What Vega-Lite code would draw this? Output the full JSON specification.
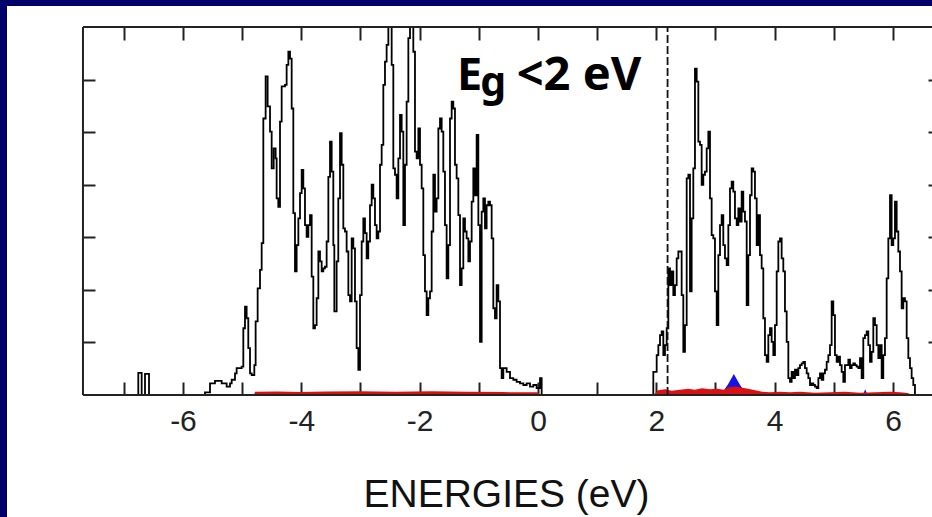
{
  "$schema": "https://vega.github.io/schema/vega-lite/v6.json",
  "width": 925,
  "height": 511,
  "autosize": {"type": "none"},
  "padding": {"left": 7, "top": 6, "right": 0, "bottom": 0},
  "background": "#00006a",
  "view": {"fill": "#ffffff", "stroke": null},
  "datasets": {
    "one": [{}],
    "total": [
      {"E": -7.69, "v": 0}, {"E": -6.755, "v": 0.42}, {"E": -6.698, "v": 0}, {"E": -6.642, "v": 0.40}, {"E": -6.574, "v": 0},
      {"E": -5.628, "v": 0.05}, {"E": -5.543, "v": 0.22}, {"E": -5.459, "v": 0.27}, {"E": -5.346, "v": 0.22}, {"E": -5.262, "v": 0.16},
      {"E": -5.205, "v": 0.22}, {"E": -5.177, "v": 0.29}, {"E": -5.121, "v": 0.41}, {"E": -5.093, "v": 0.51}, {"E": -5.008, "v": 0.54},
      {"E": -4.980, "v": 1.27}, {"E": -4.952, "v": 1.68}, {"E": -4.924, "v": 1.46}, {"E": -4.896, "v": 0.89}, {"E": -4.867, "v": 0.41},
      {"E": -4.839, "v": 0.38}, {"E": -4.794, "v": 0.57}, {"E": -4.772, "v": 1.40}, {"E": -4.738, "v": 2.03}, {"E": -4.698, "v": 2.38},
      {"E": -4.670, "v": 2.89}, {"E": -4.642, "v": 5.26}, {"E": -4.603, "v": 6.06}, {"E": -4.569, "v": 5.49}, {"E": -4.529, "v": 5.01},
      {"E": -4.501, "v": 4.31}, {"E": -4.467, "v": 4.69}, {"E": -4.434, "v": 4.50}, {"E": -4.417, "v": 3.74}, {"E": -4.389, "v": 3.58},
      {"E": -4.360, "v": 5.20}, {"E": -4.332, "v": 5.87}, {"E": -4.276, "v": 5.90}, {"E": -4.248, "v": 6.28}, {"E": -4.219, "v": 6.53},
      {"E": -4.191, "v": 6.40}, {"E": -4.163, "v": 5.45}, {"E": -4.135, "v": 3.46}, {"E": -4.107, "v": 2.35}, {"E": -4.079, "v": 2.85},
      {"E": -4.050, "v": 3.36}, {"E": -4.022, "v": 3.84}, {"E": -3.994, "v": 4.28}, {"E": -3.966, "v": 3.93}, {"E": -3.938, "v": 3.23},
      {"E": -3.910, "v": 3.01}, {"E": -3.881, "v": 3.23}, {"E": -3.853, "v": 3.42}, {"E": -3.825, "v": 2.25}, {"E": -3.797, "v": 1.27},
      {"E": -3.769, "v": 1.33}, {"E": -3.741, "v": 1.84}, {"E": -3.712, "v": 2.73}, {"E": -3.684, "v": 2.54}, {"E": -3.656, "v": 2.35},
      {"E": -3.628, "v": 2.41}, {"E": -3.600, "v": 2.44}, {"E": -3.572, "v": 2.92}, {"E": -3.543, "v": 4.15}, {"E": -3.515, "v": 4.82},
      {"E": -3.487, "v": 4.25}, {"E": -3.459, "v": 2.85}, {"E": -3.442, "v": 1.59}, {"E": -3.403, "v": 2.54}, {"E": -3.375, "v": 3.74},
      {"E": -3.346, "v": 4.98}, {"E": -3.318, "v": 4.38}, {"E": -3.290, "v": 3.17}, {"E": -3.262, "v": 3.11}, {"E": -3.234, "v": 2.73},
      {"E": -3.205, "v": 1.90}, {"E": -3.177, "v": 1.78}, {"E": -3.149, "v": 2.98}, {"E": -3.121, "v": 2.79}, {"E": -3.093, "v": 1.78},
      {"E": -3.065, "v": 0.89}, {"E": -3.036, "v": 0.48}, {"E": -3.008, "v": 1.90}, {"E": -2.980, "v": 2.92}, {"E": -2.952, "v": 3.36},
      {"E": -2.924, "v": 3.08}, {"E": -2.896, "v": 2.60}, {"E": -2.868, "v": 2.92}, {"E": -2.839, "v": 3.61}, {"E": -2.811, "v": 4.00},
      {"E": -2.783, "v": 3.74}, {"E": -2.755, "v": 3.23}, {"E": -2.727, "v": 2.98}, {"E": -2.698, "v": 3.11}, {"E": -2.670, "v": 4.38},
      {"E": -2.642, "v": 4.76}, {"E": -2.614, "v": 5.90}, {"E": -2.586, "v": 6.34}, {"E": -2.558, "v": 6.66}, {"E": -2.529, "v": 7.0},
      {"E": -2.501, "v": 7.0}, {"E": -2.473, "v": 6.28}, {"E": -2.445, "v": 4.31}, {"E": -2.417, "v": 4.19}, {"E": -2.389, "v": 3.74},
      {"E": -2.360, "v": 4.50}, {"E": -2.332, "v": 5.33}, {"E": -2.304, "v": 5.01}, {"E": -2.276, "v": 3.23}, {"E": -2.248, "v": 4.38},
      {"E": -2.220, "v": 5.58}, {"E": -2.191, "v": 6.79}, {"E": -2.163, "v": 7.0}, {"E": -2.135, "v": 7.0}, {"E": -2.107, "v": 6.53},
      {"E": -2.079, "v": 4.63}, {"E": -2.051, "v": 4.50}, {"E": -2.022, "v": 5.07}, {"E": -1.994, "v": 4.38}, {"E": -1.966, "v": 3.93},
      {"E": -1.938, "v": 2.66}, {"E": -1.910, "v": 1.97}, {"E": -1.882, "v": 1.52}, {"E": -1.853, "v": 1.84}, {"E": -1.825, "v": 1.97},
      {"E": -1.797, "v": 3.11}, {"E": -1.769, "v": 4.19}, {"E": -1.741, "v": 3.49}, {"E": -1.713, "v": 3.74}, {"E": -1.684, "v": 5.07},
      {"E": -1.656, "v": 5.26}, {"E": -1.628, "v": 5.01}, {"E": -1.600, "v": 4.25}, {"E": -1.572, "v": 3.23}, {"E": -1.544, "v": 2.22},
      {"E": -1.515, "v": 2.85}, {"E": -1.487, "v": 5.26}, {"E": -1.459, "v": 5.58}, {"E": -1.431, "v": 5.45}, {"E": -1.403, "v": 4.38},
      {"E": -1.375, "v": 4.12}, {"E": -1.346, "v": 3.42}, {"E": -1.318, "v": 2.09}, {"E": -1.290, "v": 2.41}, {"E": -1.262, "v": 3.36},
      {"E": -1.234, "v": 3.11}, {"E": -1.206, "v": 2.98}, {"E": -1.177, "v": 2.54}, {"E": -1.149, "v": 2.92}, {"E": -1.121, "v": 3.68},
      {"E": -1.093, "v": 4.31}, {"E": -1.065, "v": 3.80}, {"E": -1.037, "v": 4.95}, {"E": -1.008, "v": 3.23}, {"E": -0.980, "v": 1.01},
      {"E": -0.952, "v": 3.49}, {"E": -0.924, "v": 3.74}, {"E": -0.896, "v": 3.17}, {"E": -0.868, "v": 3.61}, {"E": -0.839, "v": 3.68},
      {"E": -0.811, "v": 3.61}, {"E": -0.783, "v": 2.98}, {"E": -0.755, "v": 1.65}, {"E": -0.727, "v": 1.46}, {"E": -0.699, "v": 2.09},
      {"E": -0.670, "v": 1.78}, {"E": -0.642, "v": 0.51}, {"E": -0.614, "v": 0.32}, {"E": -0.586, "v": 0.51}, {"E": -0.530, "v": 0.44},
      {"E": -0.473, "v": 0.32}, {"E": -0.417, "v": 0.29}, {"E": -0.361, "v": 0.25}, {"E": -0.304, "v": 0.22}, {"E": -0.248, "v": 0.19},
      {"E": -0.192, "v": 0.22}, {"E": -0.135, "v": 0.16}, {"E": -0.079, "v": 0.19}, {"E": -0.023, "v": 0.13}, {"E": 0.034, "v": 0.32},
      {"E": 0.062, "v": 0}, {"E": 1.893, "v": 0},
      {"E": 1.949, "v": 0.44}, {"E": 2.006, "v": 0.76}, {"E": 2.034, "v": 0.95}, {"E": 2.062, "v": 1.14}, {"E": 2.090, "v": 1.21},
      {"E": 2.118, "v": 0.76}, {"E": 2.146, "v": 0.95}, {"E": 2.175, "v": 1.27}, {"E": 2.203, "v": 2.41}, {"E": 2.231, "v": 2.09},
      {"E": 2.259, "v": 2.35}, {"E": 2.287, "v": 1.90}, {"E": 2.315, "v": 2.09}, {"E": 2.344, "v": 2.60}, {"E": 2.372, "v": 2.73},
      {"E": 2.428, "v": 1.90}, {"E": 2.456, "v": 0.82}, {"E": 2.484, "v": 1.33}, {"E": 2.513, "v": 4.12}, {"E": 2.541, "v": 4.19},
      {"E": 2.569, "v": 1.97}, {"E": 2.597, "v": 3.36}, {"E": 2.625, "v": 4.31}, {"E": 2.653, "v": 6.21}, {"E": 2.682, "v": 5.96},
      {"E": 2.710, "v": 4.82}, {"E": 2.738, "v": 4.76}, {"E": 2.766, "v": 4.00}, {"E": 2.794, "v": 4.19}, {"E": 2.822, "v": 4.25},
      {"E": 2.851, "v": 4.69}, {"E": 2.879, "v": 5.01}, {"E": 2.907, "v": 3.74}, {"E": 2.935, "v": 3.04}, {"E": 2.963, "v": 2.98},
      {"E": 2.991, "v": 1.97}, {"E": 3.020, "v": 1.33}, {"E": 3.048, "v": 2.66}, {"E": 3.076, "v": 3.23}, {"E": 3.104, "v": 3.42},
      {"E": 3.132, "v": 2.85}, {"E": 3.160, "v": 2.60}, {"E": 3.189, "v": 2.47}, {"E": 3.217, "v": 3.23}, {"E": 3.245, "v": 3.93},
      {"E": 3.273, "v": 4.06}, {"E": 3.301, "v": 3.87}, {"E": 3.329, "v": 3.36}, {"E": 3.358, "v": 3.23}, {"E": 3.386, "v": 3.55},
      {"E": 3.414, "v": 3.30}, {"E": 3.442, "v": 3.87}, {"E": 3.470, "v": 3.49}, {"E": 3.498, "v": 3.30}, {"E": 3.527, "v": 1.71},
      {"E": 3.555, "v": 2.66}, {"E": 3.583, "v": 3.80}, {"E": 3.611, "v": 4.31}, {"E": 3.639, "v": 4.25}, {"E": 3.667, "v": 3.74},
      {"E": 3.696, "v": 2.85}, {"E": 3.724, "v": 3.42}, {"E": 3.752, "v": 2.66}, {"E": 3.780, "v": 2.41}, {"E": 3.808, "v": 1.46},
      {"E": 3.836, "v": 0.76}, {"E": 3.865, "v": 0.63}, {"E": 3.893, "v": 1.14}, {"E": 3.921, "v": 1.27}, {"E": 3.949, "v": 1.01},
      {"E": 3.977, "v": 0.76}, {"E": 4.005, "v": 1.33}, {"E": 4.034, "v": 2.35}, {"E": 4.062, "v": 2.92}, {"E": 4.090, "v": 2.98},
      {"E": 4.118, "v": 2.60}, {"E": 4.146, "v": 2.35}, {"E": 4.174, "v": 1.59}, {"E": 4.203, "v": 1.01}, {"E": 4.231, "v": 0.32},
      {"E": 4.259, "v": 0.25}, {"E": 4.287, "v": 0.44}, {"E": 4.315, "v": 0.32}, {"E": 4.343, "v": 0.48}, {"E": 4.372, "v": 0.38},
      {"E": 4.400, "v": 0.51}, {"E": 4.428, "v": 0.57}, {"E": 4.456, "v": 0.60}, {"E": 4.484, "v": 0.63}, {"E": 4.512, "v": 0.51},
      {"E": 4.541, "v": 0.41}, {"E": 4.569, "v": 0.32}, {"E": 4.597, "v": 0.19}, {"E": 4.625, "v": 0.22}, {"E": 4.653, "v": 0.19},
      {"E": 4.681, "v": 0.16}, {"E": 4.710, "v": 0.13}, {"E": 4.738, "v": 0.32}, {"E": 4.766, "v": 0.41}, {"E": 4.794, "v": 0.29},
      {"E": 4.822, "v": 0.41}, {"E": 4.850, "v": 0.48}, {"E": 4.879, "v": 0.63}, {"E": 4.907, "v": 0.76}, {"E": 4.935, "v": 0.95},
      {"E": 4.963, "v": 1.78}, {"E": 4.991, "v": 1.52}, {"E": 5.019, "v": 0.76}, {"E": 5.048, "v": 0.63}, {"E": 5.076, "v": 0.73},
      {"E": 5.104, "v": 0.57}, {"E": 5.132, "v": 0.44}, {"E": 5.160, "v": 0.25}, {"E": 5.188, "v": 0.57}, {"E": 5.217, "v": 0.57},
      {"E": 5.245, "v": 0.67}, {"E": 5.273, "v": 0.51}, {"E": 5.301, "v": 0.57}, {"E": 5.329, "v": 0.60}, {"E": 5.357, "v": 0.57},
      {"E": 5.386, "v": 0.54}, {"E": 5.414, "v": 0.51}, {"E": 5.442, "v": 0.70}, {"E": 5.470, "v": 0.32}, {"E": 5.498, "v": 1.08},
      {"E": 5.526, "v": 1.14}, {"E": 5.555, "v": 1.21}, {"E": 5.583, "v": 0.95}, {"E": 5.611, "v": 0.63}, {"E": 5.639, "v": 0.82},
      {"E": 5.667, "v": 1.46}, {"E": 5.695, "v": 1.33}, {"E": 5.724, "v": 0.95}, {"E": 5.752, "v": 0.70}, {"E": 5.780, "v": 0.95},
      {"E": 5.808, "v": 0.32}, {"E": 5.836, "v": 0.76}, {"E": 5.864, "v": 1.08}, {"E": 5.893, "v": 2.22}, {"E": 5.921, "v": 2.98},
      {"E": 5.949, "v": 3.80}, {"E": 5.977, "v": 2.85}, {"E": 6.005, "v": 2.98}, {"E": 6.033, "v": 3.68}, {"E": 6.062, "v": 3.11},
      {"E": 6.090, "v": 2.73}, {"E": 6.118, "v": 2.35}, {"E": 6.146, "v": 1.65}, {"E": 6.174, "v": 1.84}, {"E": 6.202, "v": 1.78},
      {"E": 6.231, "v": 1.08}, {"E": 6.259, "v": 0.70}, {"E": 6.287, "v": 0.51}, {"E": 6.315, "v": 0.32}, {"E": 6.343, "v": 0.19},
      {"E": 6.371, "v": 0}, {"E": 6.66, "v": 0}
    ],
    "red": [
      {"E": -4.80, "v": 0}, {"E": -4.78, "v": 0.06}, {"E": -4.4, "v": 0.065}, {"E": -4.0, "v": 0.055}, {"E": -3.6, "v": 0.065}, {"E": -3.0, "v": 0.07},
      {"E": -2.4, "v": 0.06}, {"E": -1.8, "v": 0.07}, {"E": -1.2, "v": 0.06}, {"E": -0.6, "v": 0.055}, {"E": 0.0, "v": 0.05}, {"E": 0.03, "v": 0},
      {"E": 1.95, "v": 0}, {"E": 2.03, "v": 0.09}, {"E": 2.15, "v": 0.11}, {"E": 2.26, "v": 0.08}, {"E": 2.40, "v": 0.10},
      {"E": 2.54, "v": 0.12}, {"E": 2.65, "v": 0.10}, {"E": 2.77, "v": 0.13}, {"E": 2.91, "v": 0.11}, {"E": 3.03, "v": 0.12},
      {"E": 3.14, "v": 0.10}, {"E": 3.24, "v": 0.15}, {"E": 3.35, "v": 0.16}, {"E": 3.45, "v": 0.14}, {"E": 3.55, "v": 0.12},
      {"E": 3.67, "v": 0.09}, {"E": 3.79, "v": 0.06}, {"E": 3.92, "v": 0.05}, {"E": 4.09, "v": 0.06}, {"E": 4.26, "v": 0.05},
      {"E": 4.43, "v": 0.06}, {"E": 4.68, "v": 0.045}, {"E": 4.93, "v": 0.05}, {"E": 5.19, "v": 0.06}, {"E": 5.44, "v": 0.045},
      {"E": 5.70, "v": 0.05}, {"E": 5.95, "v": 0.06}, {"E": 6.12, "v": 0.05}, {"E": 6.25, "v": 0.04}, {"E": 6.32, "v": 0}
    ],
    "blue": [
      {"E": 3.10, "v": 0}, {"E": 3.16, "v": 0.12}, {"E": 3.21, "v": 0.2}, {"E": 3.26, "v": 0.3}, {"E": 3.31, "v": 0.40},
      {"E": 3.36, "v": 0.30}, {"E": 3.41, "v": 0.2}, {"E": 3.46, "v": 0.12}, {"E": 3.52, "v": 0},
      {"E": 5.49, "v": 0}, {"E": 5.53, "v": 0.11}, {"E": 5.57, "v": 0}
    ]
  },
  "layer": [
    {
      "data": {"name": "blue"},
      "mark": {"type": "area", "color": "#1414e6", "interpolate": "linear"},
      "encoding": {
        "x": {"field": "E", "type": "quantitative", "scale": {"domain": [-8.974, 6.659], "nice": false, "zero": false}, "axis": null},
        "y": {"field": "v", "type": "quantitative", "scale": {"domain": [-2.321, 7.4], "nice": false, "zero": false}, "axis": null},
        "y2": {"datum": 0}
      }
    },
    {
      "data": {"name": "red"},
      "mark": {"type": "area", "color": "#dc1010", "interpolate": "linear"},
      "encoding": {
        "x": {"field": "E", "type": "quantitative", "scale": {"domain": [-8.974, 6.659], "nice": false, "zero": false},
          "axis": {"orient": "top", "offset": -21, "domain": false, "grid": false, "labels": false, "title": null,
            "values": [-7, -6, -5, -4, -3, -2, -1, 0, 1, 2, 3, 4, 5, 6], "tickSize": -13, "tickWidth": 2, "tickColor": "#222222"}},
        "y": {"field": "v", "type": "quantitative", "scale": {"domain": [-2.321, 7.4], "nice": false, "zero": false},
          "axis": {"orient": "right", "offset": 0, "domain": false, "grid": false, "labels": false, "title": null,
            "values": [1, 2, 3, 4, 5, 6], "tickSize": -4, "tickWidth": 2, "tickColor": "#222222"}},
        "y2": {"datum": 0}
      }
    },
    {
      "data": {"name": "total"},
      "mark": {"type": "line", "color": "#000000", "strokeWidth": 1.8, "interpolate": "step-after"},
      "encoding": {
        "x": {"field": "E", "type": "quantitative", "scale": {"domain": [-8.974, 6.659], "nice": false, "zero": false},
          "axis": {"orient": "bottom", "offset": -122, "domain": false, "grid": false, "title": null,
            "values": [-7, -6, -5, -4, -3, -2, -1, 0, 1, 2, 3, 4, 5, 6], "tickSize": -13, "tickWidth": 2, "tickColor": "#222222",
            "labelExpr": "datum.value % 2 == 0 ? (datum.value < 0 ? '-' + abs(datum.value) : '' + datum.value) : ''",
            "labelFont": "Liberation Sans", "labelFontSize": 30, "labelColor": "#222222", "labelPadding": 24,
            "labelOverlap": false, "labelFlush": false}},
        "y": {"field": "v", "type": "quantitative", "scale": {"domain": [-2.321, 7.4], "nice": false, "zero": false},
          "axis": {"orient": "left", "offset": -75, "domain": false, "grid": false, "labels": false, "title": null,
            "values": [1, 2, 3, 4, 5, 6], "tickSize": -13, "tickWidth": 2, "tickColor": "#222222"}}
      }
    },
    {
      "data": {"name": "one"},
      "mark": {"type": "rule", "color": "#222222", "strokeWidth": 2},
      "encoding": {
        "x": {"datum": -7.69, "type": "quantitative", "scale": {"domain": [-8.974, 6.659], "nice": false, "zero": false}, "axis": null},
        "y": {"datum": 0, "type": "quantitative", "scale": {"domain": [-2.321, 7.4], "nice": false, "zero": false}, "axis": null},
        "y2": {"datum": 7}
      }
    },
    {
      "data": {"name": "one"},
      "mark": {"type": "rule", "color": "#222222", "strokeWidth": 2},
      "encoding": {
        "x": {"datum": -7.69, "type": "quantitative", "scale": {"domain": [-8.974, 6.659], "nice": false, "zero": false}, "axis": null},
        "x2": {"datum": 6.659},
        "y": {"datum": 0, "type": "quantitative", "scale": {"domain": [-2.321, 7.4], "nice": false, "zero": false}, "axis": null}
      }
    },
    {
      "data": {"name": "one"},
      "mark": {"type": "rule", "color": "#222222", "strokeWidth": 2},
      "encoding": {
        "x": {"datum": -7.69, "type": "quantitative", "scale": {"domain": [-8.974, 6.659], "nice": false, "zero": false}, "axis": null},
        "x2": {"datum": 6.659},
        "y": {"datum": 7, "type": "quantitative", "scale": {"domain": [-2.321, 7.4], "nice": false, "zero": false}, "axis": null}
      }
    },
    {
      "data": {"name": "one"},
      "mark": {"type": "rule", "color": "#111111", "strokeWidth": 1.8, "strokeDash": [8, 3]},
      "encoding": {
        "x": {"datum": 2.19, "type": "quantitative", "scale": {"domain": [-8.974, 6.659], "nice": false, "zero": false}, "axis": null},
        "y": {"datum": 0, "type": "quantitative", "scale": {"domain": [-2.321, 7.4], "nice": false, "zero": false}, "axis": null},
        "y2": {"datum": 7}
      }
    },
    {
      "data": {"name": "one"},
      "mark": {"type": "text", "text": "E", "font": "Noto Sans", "fontWeight": "bold", "fontSize": 45, "align": "left", "baseline": "alphabetic", "color": "#000000"},
      "encoding": {
        "x": {"datum": -1.369, "type": "quantitative", "scale": {"domain": [-8.974, 6.659], "nice": false, "zero": false}, "axis": null},
        "y": {"datum": 5.80, "type": "quantitative", "scale": {"domain": [-2.321, 7.4], "nice": false, "zero": false}, "axis": null}
      }
    },
    {
      "data": {"name": "one"},
      "mark": {"type": "text", "text": "g", "font": "Noto Sans", "fontWeight": "bold", "fontSize": 41, "align": "left", "baseline": "alphabetic", "color": "#000000"},
      "encoding": {
        "x": {"datum": -0.975, "type": "quantitative", "scale": {"domain": [-8.974, 6.659], "nice": false, "zero": false}, "axis": null},
        "y": {"datum": 5.69, "type": "quantitative", "scale": {"domain": [-2.321, 7.4], "nice": false, "zero": false}, "axis": null}
      }
    },
    {
      "data": {"name": "one"},
      "mark": {"type": "text", "text": "<2 eV", "font": "Noto Sans", "fontWeight": "bold", "fontSize": 47, "align": "left", "baseline": "alphabetic", "color": "#000000"},
      "encoding": {
        "x": {"datum": -0.36, "type": "quantitative", "scale": {"domain": [-8.974, 6.659], "nice": false, "zero": false}, "axis": null},
        "y": {"datum": 5.80, "type": "quantitative", "scale": {"domain": [-2.321, 7.4], "nice": false, "zero": false}, "axis": null}
      }
    },
    {
      "data": {"name": "one"},
      "mark": {"type": "text", "text": "ENERGIES (eV)", "font": "Liberation Sans", "fontSize": 39, "align": "center", "baseline": "alphabetic", "color": "#111111"},
      "encoding": {
        "x": {"datum": -0.532, "type": "quantitative", "scale": {"domain": [-8.974, 6.659], "nice": false, "zero": false}, "axis": null},
        "y": {"datum": -2.125, "type": "quantitative", "scale": {"domain": [-2.321, 7.4], "nice": false, "zero": false}, "axis": null}
      }
    }
  ],
  "resolve": {"axis": {"x": "independent", "y": "independent"}}
}
